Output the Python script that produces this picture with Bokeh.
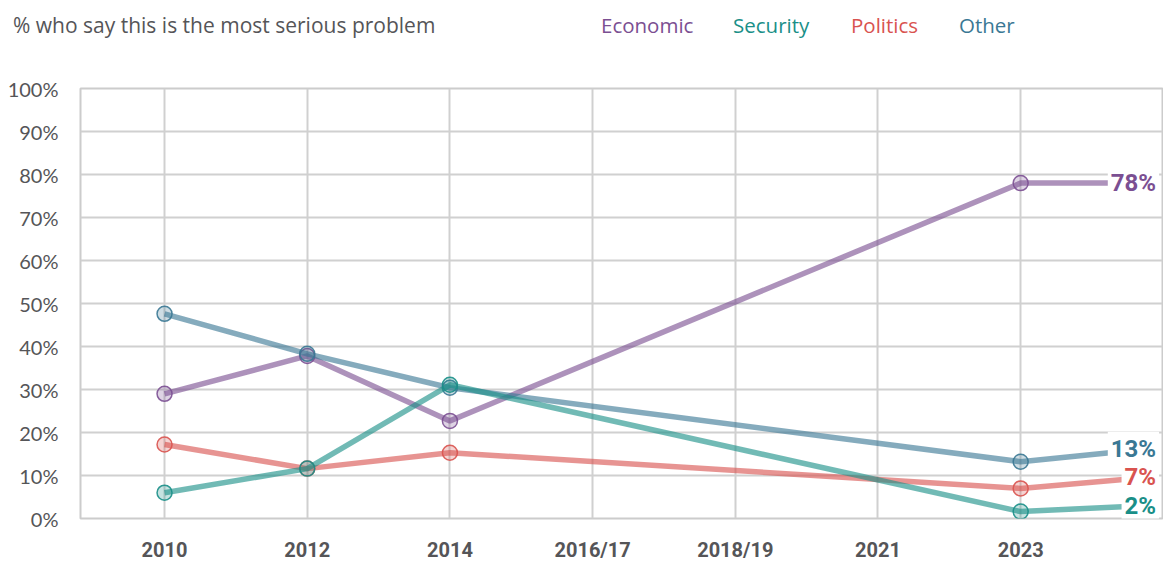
from bokeh.plotting import figure
from bokeh.models import Range1d, FixedTicker, ColumnDataSource, Div
from bokeh.layouts import column
from bokeh.core.properties import value
from bokeh.embed import file_html
from bokeh.resources import INLINE

# ---- data ----
periods = ["2010", "2012", "2014", "2016/17", "2018/19", "2021", "2023"]
observed = ["2010", "2012", "2014", "2023"]
series_names = ["Economic", "Security", "Politics", "Other"]
economic = [29.0, 37.8, 22.7, 78.0]
security = [6.0, 11.6, 31.1, 1.6]
politics = [17.2, 11.6, 15.3, 7.0]
other = [47.6, 38.3, 30.4, 13.2]
end_labels = ["78%", "2%", "7%", "13%"]
end_label_y = [78.0, 3.0, 9.6, 16.2]
y_ticks = [0, 10, 20, 30, 40, 50, 60, 70, 80, 90, 100]
title_text = "% who say this is the most serious problem"

colors = ["#7b4f92", "#1a8f88", "#d9534f", "#3a7894"]
values = [economic, security, politics, other]

HEADER_H = 72
p = figure(width=1163, height=564 - HEADER_H, output_backend="svg", toolbar_location=None,
           x_range=Range1d(-0.589, 6.994), y_range=Range1d(0, 100),
           min_border_left=80, min_border_right=1, min_border_top=16,
           min_border_bottom=46)
p.background_fill_color = "white"
p.border_fill_color = "white"
p.outline_line_color = "#cccccc"
p.outline_line_width = 2

# axes
p.xaxis.ticker = FixedTicker(ticks=list(range(len(periods))))
p.xaxis.major_label_overrides = {i: lab for i, lab in enumerate(periods)}
p.xaxis.major_label_text_font = "Roboto"
p.xaxis.major_label_text_font_style = "bold"
p.xaxis.major_label_text_font_size = "20px"
p.xaxis.major_label_text_color = "#555558"
p.xaxis.major_label_standoff = 13
p.yaxis.ticker = FixedTicker(ticks=y_ticks)
p.yaxis.major_label_overrides = {t: f"{t}%" for t in y_ticks}
p.yaxis.major_label_text_font = "Lato"
p.yaxis.major_label_text_font_size = "20px"
p.yaxis.major_label_text_color = "#555558"
p.yaxis.major_label_standoff = 16
for ax in (p.xaxis, p.yaxis):
    ax.axis_line_color = None
    ax.major_tick_line_color = None
    ax.minor_tick_line_color = None

p.xgrid.grid_line_color = "#d0d0d0"
p.xgrid.grid_line_width = 2
p.ygrid.grid_line_color = "#d0d0d0"
p.ygrid.grid_line_width = 2

obs_x = [periods.index(o) for o in observed]
end_x = 6.9
label_x = 6.97

order = [0, 2, 3, 1]
for i in order:
    xs = obs_x + [end_x]
    ys = values[i] + [end_label_y[i]]
    p.line(xs, ys, line_color=colors[i], line_width=5.5, line_alpha=0.62)
    p.scatter(obs_x, values[i], size=15, marker="circle", fill_color=colors[i],
              fill_alpha=0.25, line_color=colors[i], line_width=1.5, line_alpha=0.9)

src = ColumnDataSource(dict(x=[label_x] * 4, y=end_label_y, t=end_labels, c=colors))
p.text(x="x", y="y", text="t", text_color="c", source=src,
       text_font=value("Roboto"), text_font_style="bold", text_font_size="24px",
       text_align="right", text_baseline="middle",
       background_fill_color="white", padding=3)

# header: title and colour-coded legend
leg_left = [601, 733, 851, 959]
spans = [f'<span style="position:absolute;left:13px;top:12px;font-size:21px;'
         f'color:#555558;white-space:nowrap;">{title_text}</span>']
for name, c, lx in zip(series_names, colors, leg_left):
    spans.append(f'<span style="position:absolute;left:{lx}px;top:12px;font-size:20.5px;'
                 f'color:{c};white-space:nowrap;">{name}</span>')
header = Div(text=f'<div style="position:relative;width:1163px;height:{HEADER_H}px;'
                  f'font-family:\'Open Sans\';line-height:26px;">' + "".join(spans) + '</div>',
             width=1163, height=HEADER_H, margin=0)

layout = column(header, p, spacing=0)
open("out.html", "w").write(file_html(layout, INLINE))
